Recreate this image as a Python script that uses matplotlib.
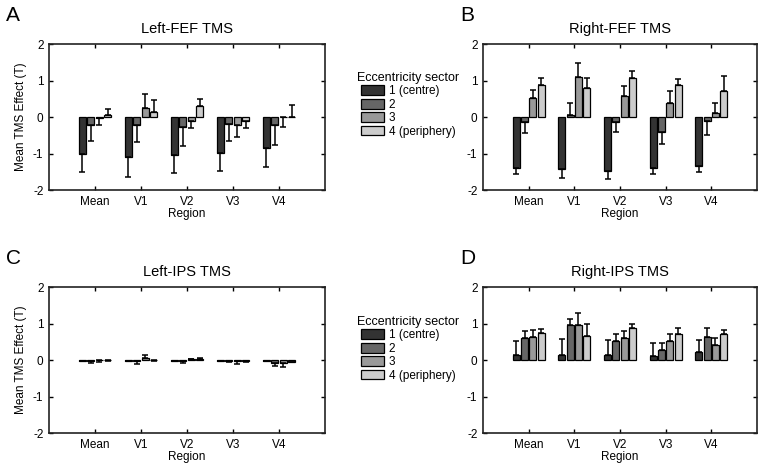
import numpy as np
import matplotlib
matplotlib.use("Agg")
import matplotlib.pyplot as plt
import matplotlib.patches as mpatches

plt.rcParams["font.family"] = ["Liberation Sans", "DejaVu Sans"]
plt.rcParams["axes.unicode_minus"] = False

# ── DATA ───────────────────────────────────────────────────
regions = ["Mean", "V1", "V2", "V3", "V4"]
sectors = ["1 (centre)", "2", "3", "4 (periphery)"]
colors = ["#333333", "#666666", "#999999", "#cccccc"]

# rows = regions, columns = eccentricity sectors
left_fef = [[-1.00, -0.21, -0.03, 0.05],
            [-1.09, -0.21, 0.25, 0.15],
            [-1.03, -0.27, -0.10, 0.29],
            [-0.99, -0.19, -0.21, -0.12],
            [-0.86, -0.22, -0.01, 0.01]]
left_fef_err = [[0.51, 0.46, 0.20, 0.16],
                [0.55, 0.47, 0.37, 0.32],
                [0.50, 0.52, 0.19, 0.19],
                [0.50, 0.47, 0.34, 0.19],
                [0.50, 0.56, 0.27, 0.32]]

right_fef = [[-1.40, -0.15, 0.53, 0.87],
             [-1.42, 0.05, 1.10, 0.80],
             [-1.48, -0.15, 0.57, 1.08],
             [-1.40, -0.42, 0.37, 0.88],
             [-1.34, -0.10, 0.10, 0.70]]
right_fef_err = [[0.15, 0.29, 0.22, 0.20],
                 [0.24, 0.32, 0.38, 0.28],
                 [0.21, 0.26, 0.28, 0.18],
                 [0.17, 0.33, 0.34, 0.17],
                 [0.16, 0.38, 0.28, 0.42]]

left_ips = [[-0.02, -0.04, -0.01, -0.01],
            [-0.02, -0.04, 0.06, -0.01],
            [-0.02, -0.04, 0.02, 0.02],
            [-0.02, -0.03, -0.04, -0.02],
            [-0.02, -0.08, -0.08, -0.05]]
left_ips_err = [[0.02, 0.04, 0.05, 0.01],
                [0.02, 0.06, 0.09, 0.01],
                [0.02, 0.04, 0.02, 0.04],
                [0.02, 0.03, 0.06, 0.03],
                [0.02, 0.09, 0.12, 0.01]]

right_ips = [[0.15, 0.60, 0.62, 0.74],
             [0.15, 0.96, 0.96, 0.66],
             [0.14, 0.52, 0.60, 0.88],
             [0.10, 0.28, 0.52, 0.70],
             [0.22, 0.62, 0.42, 0.72]]
right_ips_err = [[0.37, 0.19, 0.19, 0.11],
                 [0.43, 0.16, 0.34, 0.34],
                 [0.40, 0.20, 0.19, 0.12],
                 [0.36, 0.18, 0.19, 0.19],
                 [0.32, 0.27, 0.19, 0.11]]

W, H = 762, 465


def px_axes(fig, x0, y0, x1, y1):
    return fig.add_axes([x0 / W, 1 - y1 / H, (x1 - x0) / W, (y1 - y0) / H])


def draw_panel(ax, vals, errs, title, ylabel=True):
    vals = np.array(vals)
    errs = np.array(errs)
    x = np.arange(1, len(regions) + 1)
    offsets = [-0.273, -0.091, 0.091, 0.273]
    for j in range(len(sectors)):
        v = vals[:, j]
        e = errs[:, j]
        xs = x + offsets[j]
        ax.bar(xs, v, width=0.15, color=colors[j], edgecolor="black",
               linewidth=0.9, zorder=2)
        # one-sided error bars, pointing away from zero
        lo = np.where(v < 0, e, 0)
        hi = np.where(v >= 0, e, 0)
        ax.errorbar(xs, v, yerr=[lo, hi], fmt="none", ecolor="black",
                    elinewidth=1.1, capsize=2.2, capthick=1.1, zorder=3)
    ax.set_xlim(0, 6)
    ax.set_ylim(-2, 2)
    ax.set_xticks(x)
    ax.set_xticklabels(regions)
    ax.set_yticks([-2, -1, 0, 1, 2])
    ax.set_xlabel("Region", fontsize=8.5, labelpad=0)
    if ylabel:
        ax.set_ylabel("Mean TMS Effect (T)", fontsize=8.5, labelpad=4)
    ax.set_title(title, fontsize=10.5, pad=8)
    ax.tick_params(direction="in", top=True, right=True, labelsize=8.5,
                   length=3, width=1, pad=4)
    for s in ax.spines.values():
        s.set_linewidth(1.2)
        s.set_color("#222222")


fig = plt.figure(figsize=(W / 100, H / 100), dpi=100)

axA = px_axes(fig, 49, 44, 325, 190)
axB = px_axes(fig, 483, 44, 757, 190)
axC = px_axes(fig, 49, 287, 325, 433)
axD = px_axes(fig, 483, 287, 757, 433)

draw_panel(axA, left_fef, left_fef_err, "Left-FEF TMS")
draw_panel(axB, right_fef, right_fef_err, "Right-FEF TMS", ylabel=False)
draw_panel(axC, left_ips, left_ips_err, "Left-IPS TMS")
draw_panel(axD, right_ips, right_ips_err, "Right-IPS TMS", ylabel=False)

for letter, (lx, ly) in zip("ABCD", [(6, 6), (460, 6), (6, 249), (460, 249)]):
    fig.text(lx / W, 1 - ly / H, letter, fontsize=15, va="top", ha="left")

handles = [mpatches.Patch(facecolor=c, edgecolor="black", linewidth=0.9)
           for c in colors]
for ty in (72, 316):
    leg = fig.legend(handles, sectors, title="Eccentricity sector",
                     loc="upper left", bbox_to_anchor=(357 / W, 1 - ty / H),
                     frameon=False, fontsize=8.5, title_fontsize=9,
                     handlelength=2.0, handleheight=0.9, labelspacing=0.12,
                     handletextpad=0.4, borderpad=0, borderaxespad=0)

fig.savefig("out.png", dpi=100)
